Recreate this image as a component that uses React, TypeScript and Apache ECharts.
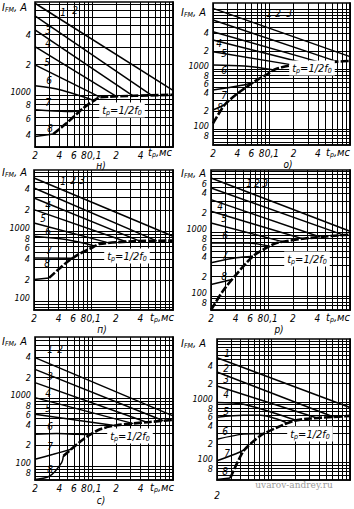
import React, { useEffect, useRef } from "react";
import * as echarts from "echarts";

const FONT = "'Liberation Sans Narrow', 'DejaVu Sans Condensed', 'Liberation Sans', Arial, sans-serif";

// grid line values (t in ms, I in A)
const xGridLines = [0.02, 0.03, 0.04, 0.05, 0.06, 0.07, 0.08, 0.09, 0.1, 0.2, 0.3, 0.4, 0.5, 0.6, 0.7, 0.8, 0.9, 1];
const yGridLines = [50, 60, 70, 80, 90, 100, 200, 300, 400, 500, 600, 700, 800, 900, 1000, 2000, 3000, 4000, 5000, 6000, 7000, 8000, 9000, 10000];

// tick labels
const xTickLabels: [number, string][] = [[0.02, "2"], [0.04, "4"], [0.06, "6"], [0.08, "8"], [0.1, "0,1"], [0.2, "2"], [0.4, "4"]];
const xTickLabelsLast: [number, string][] = [[0.02, "2"]];
const yLabelsH: [number, string][] = [[4000, "4"], [2000, "2"], [1000, "1000"], [800, "8"], [600, "6"], [400, "4"]];
const yLabelsO: [number, string][] = [[6000, "6"], [4000, "4"], [2000, "2"], [1000, "1000"], [800, "8"], [600, "6"], [400, "4"], [200, "2"], [100, "100"], [80, "8"]];
const yLabelsP: [number, string][] = [[4000, "4"], [2000, "2"], [1000, "1000"], [800, "8"], [600, "6"], [400, "4"], [200, "2"], [100, "100"]];
const yLabelsR: [number, string][] = [[6000, "6"], [4000, "4"], [2000, "2"], [1000, "1000"], [800, "8"], [600, "6"], [400, "4"], [200, "2"], [100, "100"], [80, "8"]];
const yLabelsS: [number, string][] = [[4000, "4"], [2000, "2"], [1000, "1000"], [800, "8"], [600, "6"], [400, "4"], [200, "2"], [100, "100"], [80, "8"]];
const yLabelsT: [number, string][] = [[4000, "4"], [2000, "2"], [1000, "1000"], [800, "8"], [600, "6"], [400, "4"], [200, "2"], [100, "100"], [80, "8"], [60, "6"]];

type Pt = [number, number];

// panel н)
const curvesH: Pt[][] = [
  [[0.02, 8260], [1.0, 1105]],
  [[0.02, 6166], [0.547, 985]],
  [[0.02, 4467], [0.325, 972]],
  [[0.02, 3041], [0.203, 960]],
  [[0.02, 1995], [0.126, 948]],
  [[0.02, 1230], [0.0406, 1122], [0.107, 875]],
  [[0.02, 708], [0.049, 681], [0.072, 689]],
  [[0.02, 383], [0.0336, 405]],
];
const boundaryH: Pt[] = [[0.0336, 405], [0.0491, 521], [0.0787, 736], [0.11, 891], [0.126, 948], [1.0, 1000]];

// panel о)
const curvesO: Pt[][] = [
  [[0.02, 10260], [1.0, 1606]],
  [[0.02, 6560], [0.693, 1325]],
  [[0.02, 4190], [0.45, 1265]],
  [[0.02, 3043], [0.3, 1213]],
  [[0.02, 1945], [0.2, 1160]],
  [[0.02, 1166], [0.049, 1122], [0.115, 962]],
  [[0.02, 447], [0.0406, 521], [0.062, 586]],
  [[0.02, 207], [0.0278, 251]],
];
const boundaryO: Pt[] = [[0.02, 124], [0.0278, 251], [0.0406, 393], [0.0652, 615], [0.0951, 825], [0.1205, 1000], [0.203, 1166], [0.693, 1325], [1.0, 1359]];

// panel п)
const curvesP: Pt[][] = [
  [[0.02, 5715], [1.0, 839]],
  [[0.02, 4115], [0.63, 722]],
  [[0.02, 2960], [0.393, 714]],
  [[0.02, 2017], [0.269, 699]],
  [[0.02, 1301], [0.168, 669]],
  [[0.02, 839], [0.0491, 752], [0.11, 610]],
  [[0.02, 411], [0.06, 408]],
  [[0.02, 202], [0.0306, 213]],
];
const boundaryP: Pt[] = [[0.0306, 213], [0.0491, 349], [0.0717, 469], [0.1046, 584], [0.1264, 652], [0.325, 712], [1.0, 728]];

// panel р)
const curvesR: Pt[][] = [
  [[0.02, 6980], [1.0, 1024]],
  [[0.02, 4870], [0.837, 891]],
  [[0.02, 3200], [0.432, 831]],
  [[0.02, 2103], [0.269, 777]],
  [[0.02, 1382], [0.153, 698]],
  [[0.02, 673], [0.0566, 673], [0.1046, 597]],
  [[0.02, 328], [0.0406, 393], [0.0652, 417]],
  [[0.02, 150], [0.0362, 180]],
];
const boundaryR: Pt[] = [[0.02, 60], [0.0278, 118], [0.0406, 215], [0.0652, 417], [0.0951, 562], [0.1264, 673], [0.3252, 806], [1.0, 908]];

// panel с)
const curvesS: Pt[][] = [
  [[0.02, 3920], [1.0, 544]],
  [[0.02, 2640], [0.761, 461]],
  [[0.02, 1681], [0.475, 438]],
  [[0.02, 1011], [0.325, 419]],
  [[0.02, 575], [0.19, 392]],
  [[0.02, 292], [0.037, 300], [0.0652, 292], [0.0986, 290]],
  [[0.02, 125], [0.0336, 148], [0.056, 176]],
  [[0.02, 63], [0.0306, 71.3], [0.0426, 112], [0.0447, 140]],
];
const boundaryS: Pt[] = [[0.0447, 140], [0.0787, 247], [0.1264, 346], [0.2027, 396], [0.5218, 444], [1.0, 475]];

// last panel (unlabelled)
const curvesT: Pt[][] = [
  [[0.02, 5390], [1.0, 806]],
  [[0.02, 3126], [0.619, 563]],
  [[0.02, 1837], [0.379, 540]],
  [[0.02, 975], [0.0438, 915], [0.21, 490]],
  [[0.02, 560], [0.0438, 603], [0.0716, 600], [0.1168, 520], [0.16, 443]],
  [[0.02, 242], [0.0438, 293], [0.082, 300]],
  [[0.02, 106], [0.04, 150], [0.0486, 175]],
  [[0.02, 52], [0.0296, 55]],
];
const boundaryT: Pt[] = [[0.0296, 55], [0.0438, 155], [0.0716, 275], [0.1168, 377], [0.1908, 486], [0.3116, 531], [1.0, 588]];

const curveNames = ["1", "2", "3", "4", "5", "6", "7", "8"];

const panels = [
  {
    box: { left: 35, top: 2, width: 138, height: 145 }, yMin: 300, yMax: 8500, yLabels: yLabelsH, xLabels: xTickLabels, xMargin: 3,
    curves: curvesH, boundary: boundaryH, letter: "н)", letterPos: [101, 165],
    yName: [2, 7], tName: [148, 152], box0: [122, 110],
    lbl: [[63, 12], [75, 10], [48, 30], [48, 43], [47, 62], [49, 80], [48, 102], [50, 128]],
  },
  {
    box: { left: 213, top: 3, width: 137, height: 142 }, yMin: 54, yMax: 12600, yLabels: yLabelsO, xLabels: xTickLabels, xMargin: 3,
    curves: curvesO, boundary: boundaryO, letter: "о)", letterPos: [288, 164],
    yName: [181, 12], tName: [326, 152], box0: [312, 68],
    lbl: [[269, 13], [278, 13], [289, 13], [219, 43], [224, 53], [224, 70], [224, 95], [220, 107]],
  },
  {
    box: { left: 34, top: 170, width: 139, height: 140 }, yMin: 74, yMax: 7440, yLabels: yLabelsP, xLabels: xTickLabels, xMargin: 3,
    curves: curvesP, boundary: boundaryP, letter: "п)", letterPos: [102, 329],
    yName: [2, 172], tName: [150, 317], box0: [127, 256],
    lbl: [[63, 181], [73, 180], [82, 180], [48, 205], [43, 218], [48, 231], [49, 250], [47, 263]],
  },
  {
    box: { left: 211, top: 170, width: 139, height: 140 }, yMin: 60, yMax: 9300, yLabels: yLabelsR, xLabels: xTickLabels, xMargin: 3,
    curves: curvesR, boundary: boundaryR, letter: "р)", letterPos: [279, 329],
    yName: [181, 173], tName: [326, 317], box0: [307, 259],
    lbl: [[249, 183], [257, 183], [265, 183], [220, 206], [224, 218], [225, 235], [225, 255], [224, 276]],
  },
  {
    box: { left: 35, top: 337, width: 138, height: 143 }, yMin: 62, yMax: 7900, yLabels: yLabelsS, xLabels: xTickLabels, xMargin: 3,
    curves: curvesS, boundary: boundaryS, letter: "с)", letterPos: [101, 500],
    yName: [2, 341], tName: [150, 487], box0: [130, 436],
    lbl: [[50, 349], [60, 349], [50, 376], [48, 393], [48, 408], [50, 426], [50, 446], [50, 469]],
  },
  {
    box: { left: 217, top: 339, width: 133, height: 141 }, yMin: 51, yMax: 11000, yLabels: yLabelsT, xLabels: xTickLabelsLast, xMargin: 10,
    curves: curvesT, boundary: boundaryT, letter: "", letterPos: [0, 0],
    yName: [181, 343], tName: null, box0: [310, 434],
    lbl: [[227, 353], [226, 368], [226, 379], [226, 394], [226, 411], [225, 431], [227, 453], [225, 471]],
  },
];

const L = (v: number) => Math.log10(v);

const base = { fontSize: 9, fontStyle: "italic", fontFamily: FONT, color: "#000" };
const yRich = {
  u: { ...base, padding: [0, 0, 6, 0] },
  d1: { ...base, padding: [2, 0, 0, 0] },
  d2: { ...base, padding: [4, 0, 0, 0] },
  n: { ...base },
};
const xRich = {
  r: { ...base, fontSize: 10, padding: [0, 0, 0, 5] },
  n: { ...base, fontSize: 10 },
};

function yFormatter(labels: [number, string][]) {
  return (v: number) => {
    for (const [val, txt] of labels) {
      if (Math.abs(L(val) - v) < 1e-6) {
        const k = txt === "1000" || txt === "100" ? "u" : txt === "8" ? "d1" : txt === "6" ? "d2" : "n";
        return `{${k}|${txt}}`;
      }
    }
    return "";
  };
}
function xFormatter(labels: [number, string][]) {
  return (v: number) => {
    for (const [val, txt] of labels) {
      if (Math.abs(L(val) - v) < 1e-6) return `{${txt === "0,1" ? "r" : "n"}|${txt}}`;
    }
    return "";
  };
}

const richSub = {
  m: { fontSize: 11, fontStyle: "italic", fontFamily: FONT, color: "#000", lineHeight: 13, verticalAlign: "middle" },
  s: { fontSize: 7, fontStyle: "italic", fontFamily: FONT, color: "#000", lineHeight: 13, verticalAlign: "bottom" },
};

export default function App() {
  const ref = useRef<HTMLDivElement>(null);
  useEffect(() => {
    if (!ref.current) return;
    const chart = echarts.init(ref.current, undefined, { renderer: "svg" });
    const grid: any[] = [];
    const xAxis: any[] = [];
    const yAxis: any[] = [];
    const series: any[] = [];
    const graphic: any[] = [];

    panels.forEach((p, i) => {
      grid.push({ ...p.box, show: true, borderColor: "#000", borderWidth: 1.6, containLabel: false });
      xAxis.push({
        type: "value", gridIndex: i, min: L(0.02), max: L(1),
        axisLine: { show: true, lineStyle: { color: "#000", width: 1.6 } },
        axisTick: { show: false, customValues: xGridLines.map(L) },
        splitLine: { show: true, lineStyle: { color: "#000", width: 1 } },
        axisLabel: {
          customValues: p.xLabels.map((d) => L(d[0])), formatter: xFormatter(p.xLabels), rich: xRich,
          fontSize: 10, fontStyle: "italic", fontFamily: FONT, color: "#000", margin: p.xMargin,
        },
      });
      yAxis.push({
        type: "value", gridIndex: i, min: L(p.yMin), max: L(p.yMax),
        axisLine: { show: true, lineStyle: { color: "#000", width: 1.6 } },
        axisTick: { show: false, customValues: yGridLines.filter((v) => v >= p.yMin && v <= p.yMax).map(L) },
        splitLine: { show: true, lineStyle: { color: "#000", width: 1 } },
        axisLabel: {
          customValues: p.yLabels.map((d) => L(d[0])), formatter: yFormatter(p.yLabels), rich: yRich,
          fontSize: 9, fontStyle: "italic", fontFamily: FONT, color: "#000", margin: 4,
        },
      });
      p.curves.forEach((c, k) => {
        series.push({
          type: "line", name: `${i}-${curveNames[k]}`, xAxisIndex: i, yAxisIndex: i,
          data: c.map(([t, v]) => [L(t), L(v)]), symbol: "none", smooth: c.length > 2 ? 0.3 : false,
          lineStyle: { color: "#000", width: 1.5 }, silent: true, clip: true,
        });
      });
      series.push({
        type: "line", name: `${i}-b`, xAxisIndex: i, yAxisIndex: i,
        data: p.boundary.map(([t, v]) => [L(t), L(v)]), symbol: "none", smooth: 0.25,
        lineStyle: { color: "#000", width: 2.6, type: [8, 2] }, silent: true, clip: true,
      });

      p.lbl.forEach((pos, k) => {
        graphic.push({
          type: "text", x: pos[0], y: pos[1], z: 10,
          style: { text: curveNames[k], fontSize: 10, fontStyle: "italic", fontFamily: FONT, fill: "#000", align: "center", verticalAlign: "middle" },
        });
      });
      graphic.push({
        type: "text", x: p.yName[0], y: p.yName[1], z: 10,
        style: { text: "{m|I}{s|FM}{m|, A}", rich: richSub, align: "left", verticalAlign: "middle", fill: "#000" },
      });
      if (p.tName) {
        graphic.push({
          type: "text", x: p.tName[0], y: p.tName[1], z: 10,
          style: { text: "{m|t}{s|p}{m|,мс}", rich: richSub, align: "left", verticalAlign: "middle", fill: "#000" },
        });
      }
      if (p.letter) {
        graphic.push({
          type: "text", x: p.letterPos[0], y: p.letterPos[1], z: 10,
          style: { text: p.letter, fontSize: 10, fontStyle: "italic", fontFamily: FONT, fill: "#000", align: "center", verticalAlign: "middle" },
        });
      }
      graphic.push({
        type: "text", x: p.box0[0], y: p.box0[1], z: 12,
        style: {
          text: "{m|t}{s|p}{m|=1/2f}{s|0}", rich: richSub, align: "center", verticalAlign: "middle",
          backgroundColor: "#fff", padding: [1, 3, 1, 3], fill: "#000",
        },
      });
    });

    graphic.push({
      type: "text", x: 294, y: 485, z: 12,
      style: { text: "uvarov-andrey.ru", fontSize: 9, fontFamily: "'DejaVu Serif', serif", fill: "#9a9a9a", align: "center", verticalAlign: "middle" },
    });

    chart.setOption({
      animation: false,
      backgroundColor: "#fff",
      grid, xAxis, yAxis, series, graphic,
    });
    return () => chart.dispose();
  }, []);
  return <div ref={ref} style={{ width: 354, height: 509, position: "absolute", left: 0, top: 0 }} />;
}
